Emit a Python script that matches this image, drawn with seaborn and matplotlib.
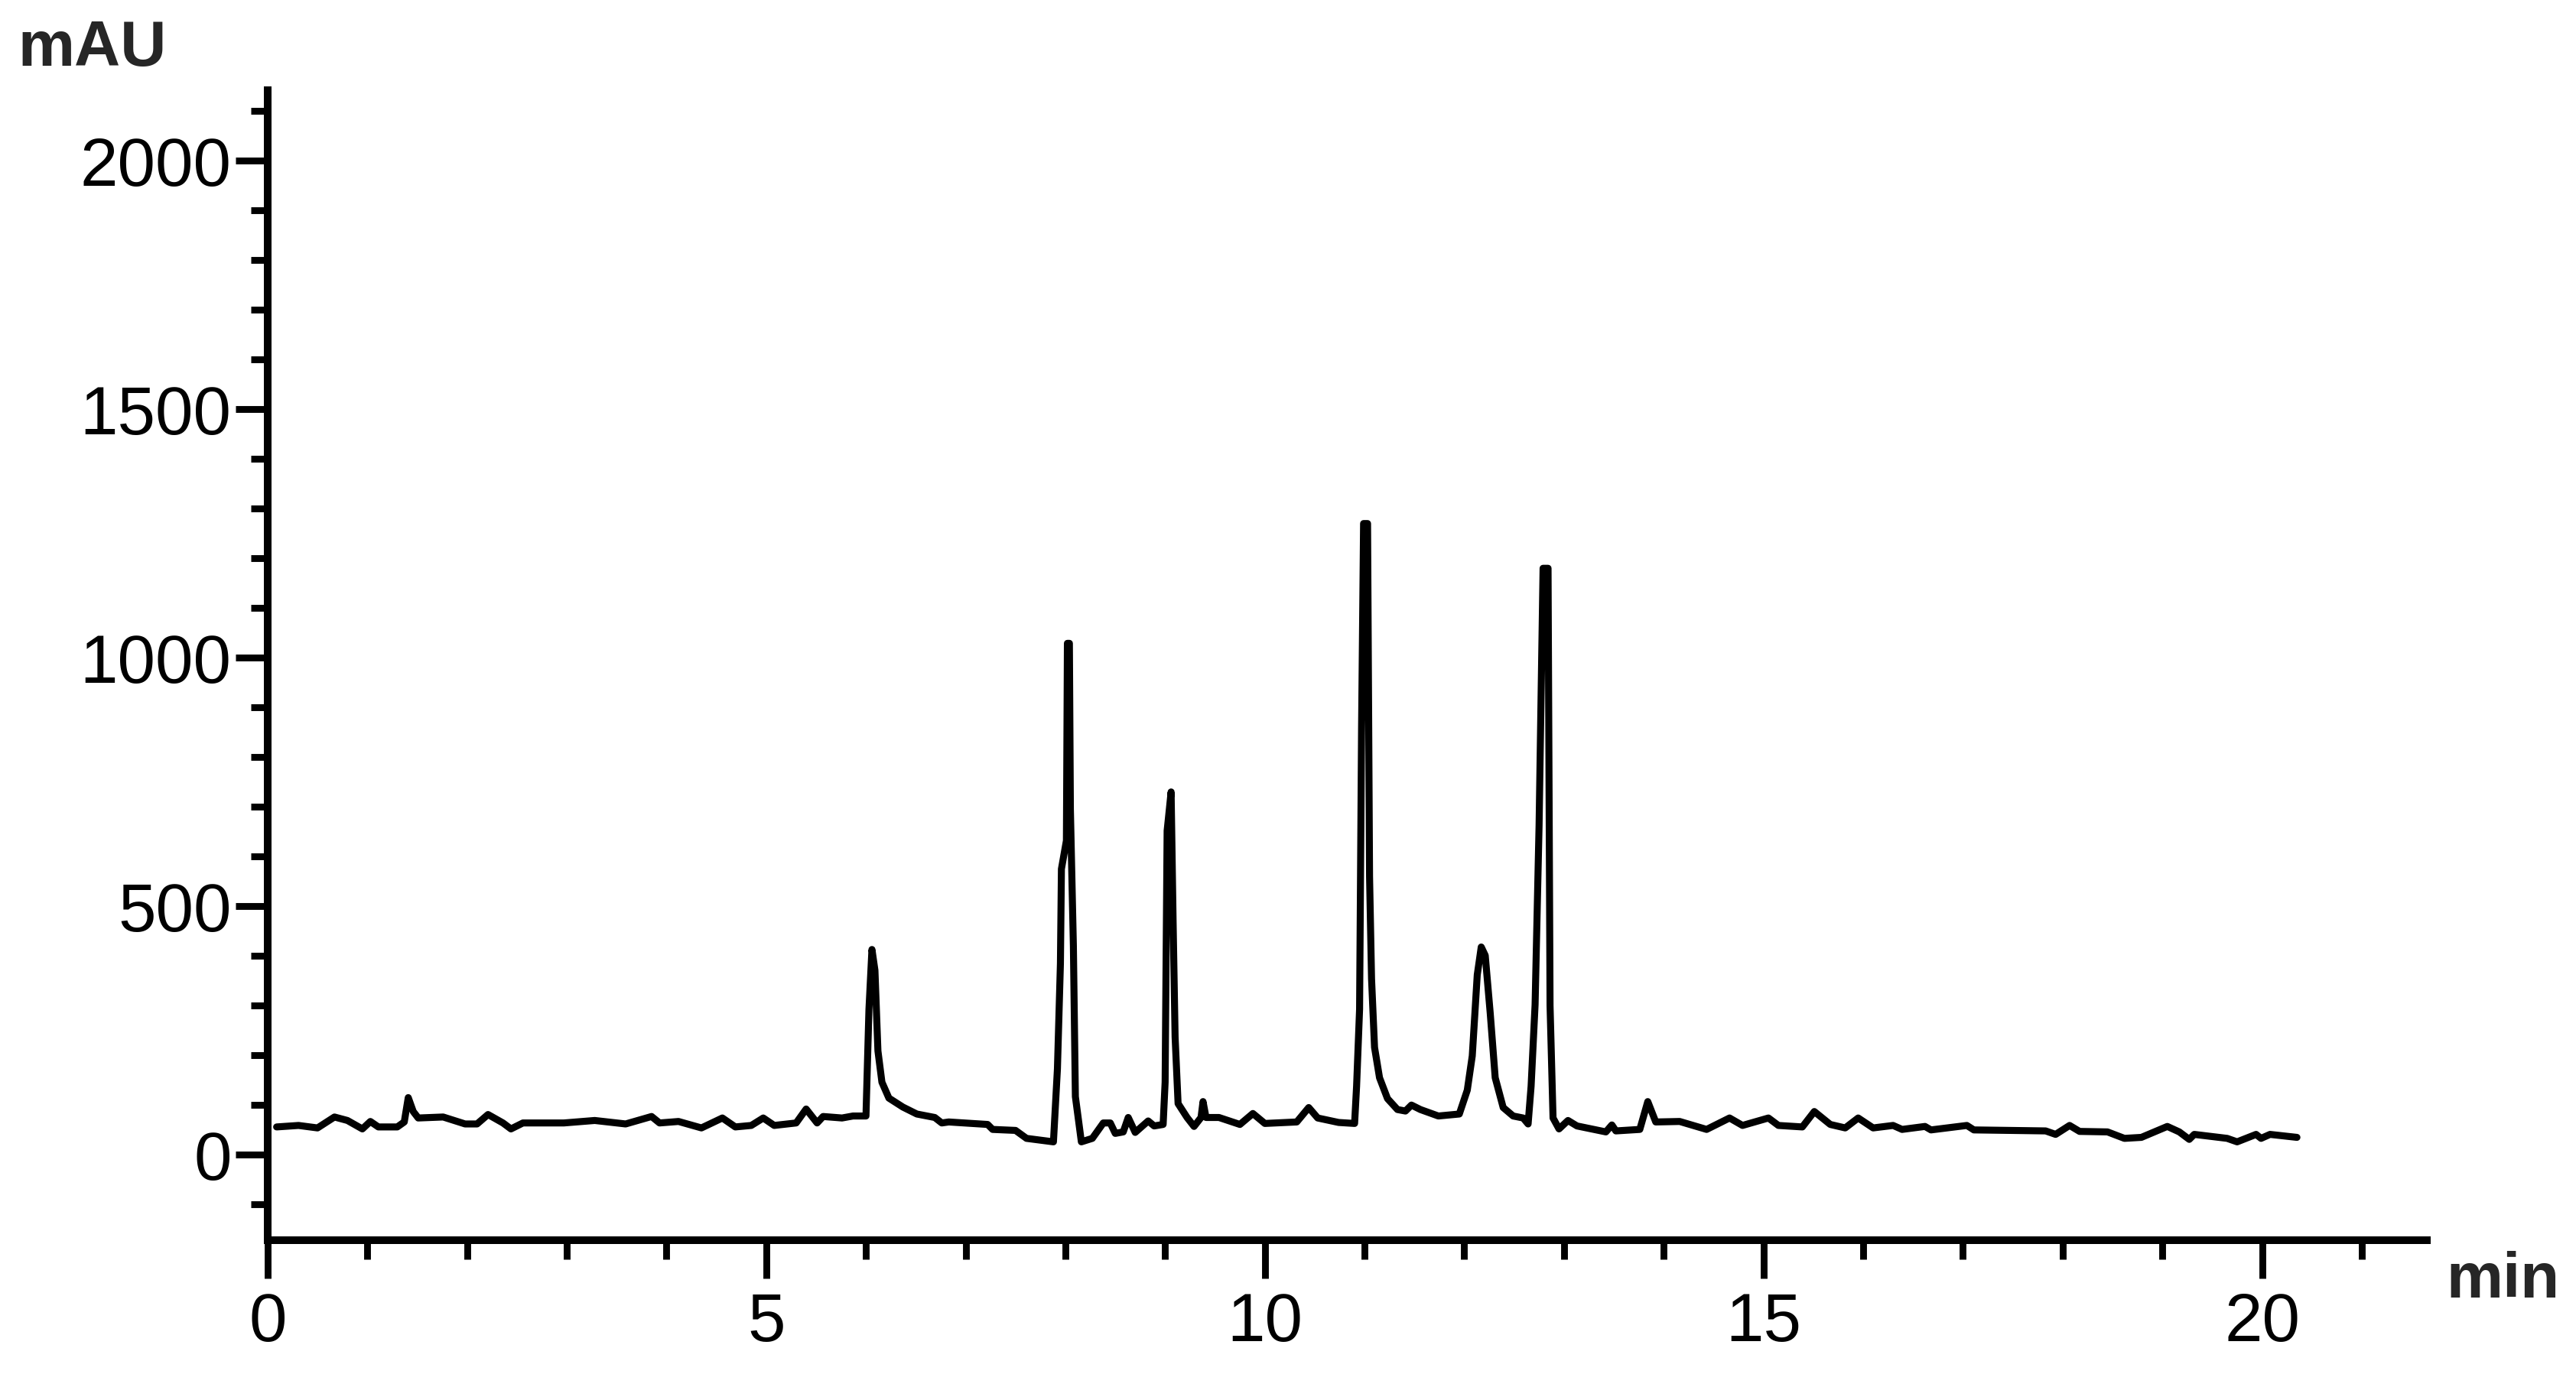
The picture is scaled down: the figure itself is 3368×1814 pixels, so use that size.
import pandas as pd
import seaborn as sns
import matplotlib.pyplot as plt
from matplotlib.ticker import MultipleLocator

# Chromatogram trace (time in min, signal in mAU)
time_min = [0.09, 0.31, 0.50, 0.67, 0.80, 0.95, 1.03, 1.11, 1.30, 1.37,
            1.41, 1.46, 1.51, 1.76, 1.98, 2.10, 2.21, 2.36, 2.44, 2.56,
            2.97, 3.28, 3.59, 3.85, 3.93, 4.12, 4.35, 4.56, 4.69, 4.85,
            4.97, 5.08, 5.30, 5.40, 5.51, 5.57, 5.76, 5.87, 6.00, 6.03,
            6.06, 6.09, 6.12, 6.16, 6.23, 6.37, 6.51, 6.69, 6.76, 6.83,
            7.22, 7.27, 7.50, 7.61, 7.88, 7.92, 7.95, 7.96, 8.01, 8.02,
            8.04, 8.05, 8.08, 8.10, 8.16, 8.27, 8.38, 8.45, 8.50, 8.58,
            8.63, 8.70, 8.83, 8.89, 8.98, 9.00, 9.02, 9.06, 9.08, 9.10,
            9.13, 9.22, 9.29, 9.36, 9.38, 9.41, 9.54, 9.75, 9.88, 10.00,
            10.32, 10.44, 10.53, 10.74, 10.90, 10.92, 10.95, 10.97, 10.99, 11.03,
            11.05, 11.07, 11.10, 11.15, 11.23, 11.33, 11.41, 11.47, 11.56, 11.74,
            11.95, 12.03, 12.08, 12.13, 12.17, 12.21, 12.26, 12.31, 12.39, 12.49,
            12.59, 12.64, 12.67, 12.71, 12.75, 12.79, 12.84, 12.86, 12.89, 12.95,
            13.04, 13.13, 13.42, 13.48, 13.52, 13.76, 13.84, 13.92, 14.16, 14.43,
            14.66, 14.79, 15.05, 15.15, 15.39, 15.51, 15.67, 15.82, 15.95, 16.10,
            16.30, 16.39, 16.62, 16.68, 17.04, 17.11, 17.83, 17.93, 18.07, 18.17,
            18.45, 18.62, 18.79, 19.05, 19.17, 19.27, 19.32, 19.65, 19.75, 19.94,
            19.99, 20.08, 20.35]
signal_mau = [56, 59, 54, 76, 69, 52, 67, 56, 56, 66,
              115, 87, 74, 76, 62, 62, 81, 64, 52, 64,
              64, 69, 62, 77, 64, 67, 54, 74, 56, 59,
              74, 59, 64, 92, 64, 77, 74, 78, 78, 293,
              413, 371, 209, 146, 114, 96, 82, 75, 64, 66,
              61, 51, 49, 33, 26, 173, 385, 575, 632, 1029,
              1029, 695, 420, 117, 26, 33, 64, 64, 43, 46,
              75, 45, 68, 58, 61, 146, 652, 730, 469, 237,
              103, 75, 57, 75, 107, 75, 75, 61, 83, 63,
              66, 95, 74, 65, 63, 138, 293, 860, 1270, 1270,
              560, 354, 216, 155, 113, 91, 88, 100, 91, 78,
              82, 130, 199, 362, 418, 401, 285, 155, 95, 78,
              74, 62, 138, 302, 663, 1180, 1180, 300, 74, 52,
              69, 58, 46, 60, 48, 51, 107, 66, 67, 51,
              74, 59, 74, 59, 56, 87, 61, 54, 74, 54,
              59, 51, 57, 50, 59, 50, 48, 41, 59, 47,
              46, 33, 35, 57, 46, 31, 41, 33, 26, 41,
              33, 41, 35]

x_major = [0, 5, 10, 15, 20]
y_major = [0, 500, 1000, 1500, 2000]

df = pd.DataFrame({'time': time_min, 'mAU': signal_mau})

sns.set_style('ticks')
plt.rcParams['font.family'] = ['Liberation Sans', 'DejaVu Sans']

fig = plt.figure(figsize=(16.84, 9.07), dpi=200)
ax = fig.add_axes([0.1039, 0.1058, 0.8381, 0.8292])

sns.lineplot(data=df, x='time', y='mAU', sort=False, color='black',
             linewidth=3.3, ax=ax)
ax.lines[0].set_solid_joinstyle('round')
ax.lines[0].set_solid_capstyle('round')

ax.set_xlim(0, 21.65)
ax.set_ylim(-172, 2142)
ax.set_xticks(x_major)
ax.set_yticks(y_major)
ax.xaxis.set_minor_locator(MultipleLocator(1))
ax.yaxis.set_minor_locator(MultipleLocator(100))
ax.set_xlabel('')
ax.set_ylabel('')

sns.despine(ax=ax)
for s in ['left', 'bottom']:
    ax.spines[s].set_linewidth(3.6)
    ax.spines[s].set_color('black')

ax.tick_params(axis='x', which='major', length=18, width=3.2, pad=6,
               labelsize=32, colors='black')
ax.tick_params(axis='x', which='minor', length=9, width=3.2, colors='black')
ax.tick_params(axis='y', which='major', length=15, width=3.2, pad=2,
               labelsize=32, colors='black')
ax.tick_params(axis='y', which='minor', length=8, width=3.2, colors='black')

fig.text(0.0068, 0.9526, 'mAU', fontsize=30, fontweight='bold', va='baseline')
fig.text(0.9495, 0.0645, 'min', fontsize=30, fontweight='bold', va='baseline')

fig.savefig('out.png', dpi=200, facecolor='white')
